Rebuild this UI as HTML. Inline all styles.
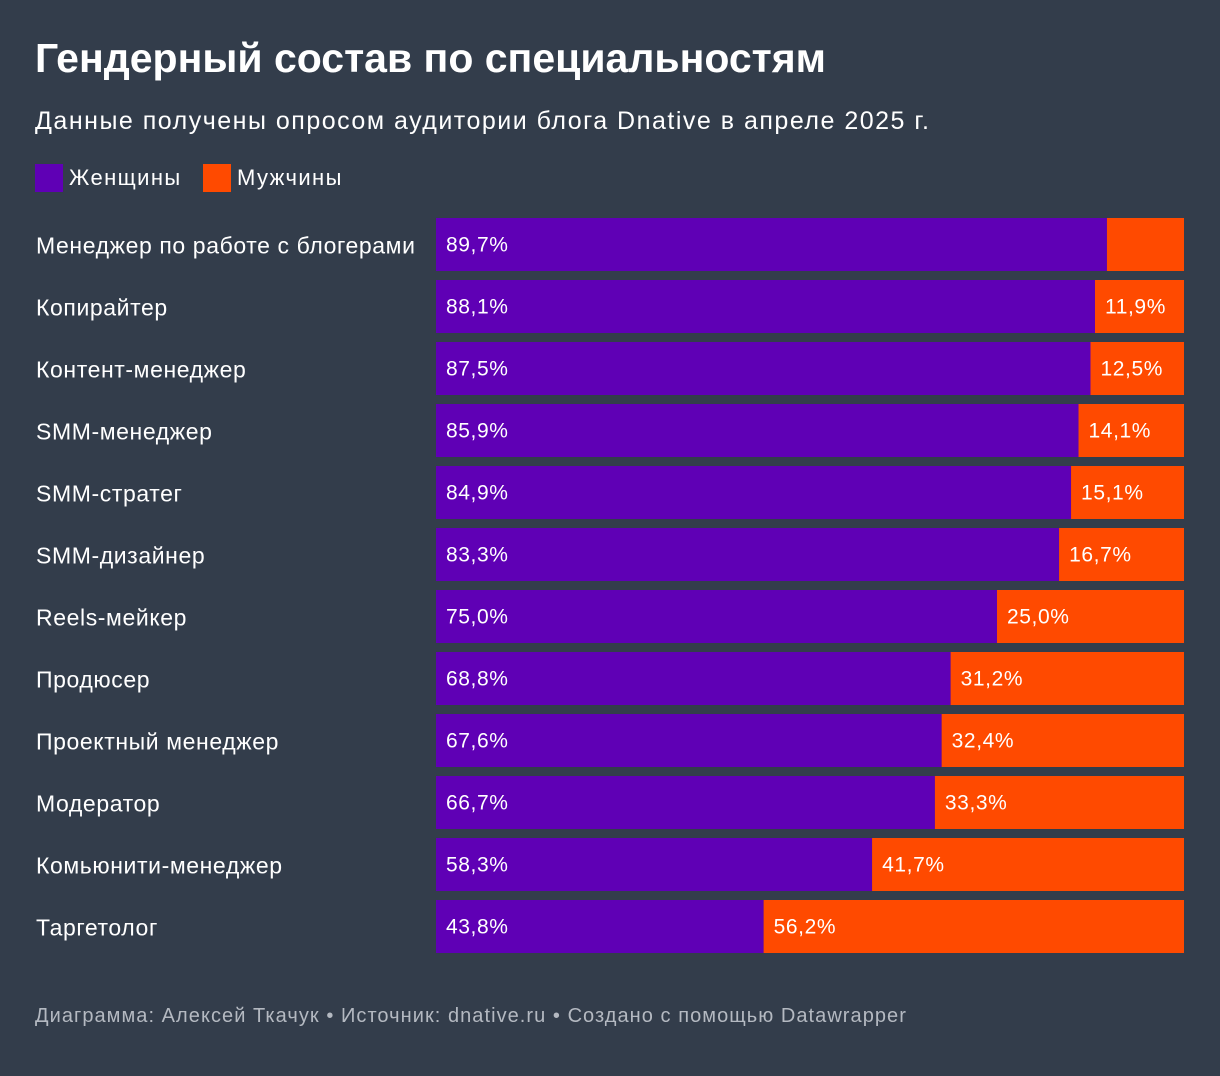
<!DOCTYPE html>
<html><head><meta charset="utf-8"><style>
body{margin:0;width:1220px;height:1076px;background:#333d4b;font-family:"Liberation Sans","DejaVu Sans",sans-serif;color:#fff;position:relative;overflow:hidden}
#title{position:absolute;left:35px;top:35px;font-size:41px;font-weight:bold;letter-spacing:0px}
#sub{position:absolute;left:35px;top:107px;font-size:25px;letter-spacing:1.5px}
.leg{position:absolute;top:164px;font-size:22px;letter-spacing:1.4px;display:flex;align-items:center}
.sw{width:28px;height:28px;margin-right:6px}
#foot{position:absolute;left:35px;top:1005px;font-size:20px;letter-spacing:1.05px;color:#b4b9c1}
svg{position:absolute;left:0;top:0}
</style></head><body>
<div id="title">Гендерный состав по специальностям</div>
<div id="sub">Данные получены опросом аудитории блога Dnative в апреле 2025 г.</div>
<div class="leg" style="left:35px"><div class="sw" style="background:#5f00b5"></div>Женщины</div>
<div class="leg" style="left:203px"><div class="sw" style="background:#ff4a00"></div>Мужчины</div>
<svg id="chart" width="1220" height="1076"></svg>
<div id="foot">Диаграмма: Алексей Ткачук • Источник: dnative.ru • Создано с помощью Datawrapper</div>
<script>
const categories=["Менеджер по работе с блогерами","Копирайтер","Контент-менеджер","SMM-менеджер","SMM-стратег","SMM-дизайнер","Reels-мейкер","Продюсер","Проектный менеджер","Модератор","Комьюнити-менеджер","Таргетолог"];
const women=[89.7,88.1,87.5,85.9,84.9,83.3,75.0,68.8,67.6,66.7,58.3,43.8];
const men=[10.3,11.9,12.5,14.1,15.1,16.7,25.0,31.2,32.4,33.3,41.7,56.2];
const svg=document.getElementById('chart');
const NS='http://www.w3.org/2000/svg';
const x0=436,xw=748,y0=218,pitch=62,bh=53;
const xs=v=>v/100*xw;
const ys=i=>y0+i*pitch;
const fmt=v=>v.toFixed(1).replace('.',',')+'%';
function mk(t,a){const e=document.createElementNS(NS,t);for(const k in a)e.setAttribute(k,a[k]);svg.appendChild(e);return e;}
categories.forEach((c,i)=>{
  const y=ys(i);
  const lb=mk('text',{x:36,y:y+bh/2+9,fill:'#fff','font-size':23,'letter-spacing':0.6});lb.textContent=c;
  
  
  const w=xs(women[i]);
  const r1=mk('rect',{x:x0,y:y,width:w,height:bh,fill:'#5f00b5'});
  
  
  const r2=mk('rect',{x:x0+w,y:y,width:xs(men[i]),height:bh,fill:'#ff4a00'});
  
  
  const t1=mk('text',{x:x0+10,y:y+bh/2+7,fill:'#fff','font-size':21,'letter-spacing':0.6});t1.textContent=fmt(women[i]);
  
  
  if(men[i]>=11){const t2=mk('text',{x:x0+w+10,y:y+bh/2+7,fill:'#fff','font-size':21,'letter-spacing':0.6});t2.textContent=fmt(men[i]);
  
  }
});
</script>
</body></html>
